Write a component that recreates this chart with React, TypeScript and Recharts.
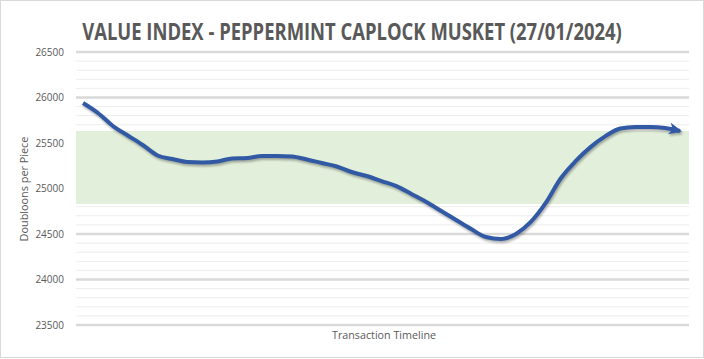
import React, { useLayoutEffect, useRef, useState } from 'react';
import { LineChart, Line, XAxis, YAxis, CartesianGrid, ReferenceArea } from 'recharts';

const title = 'VALUE INDEX - PEPPERMINT CAPLOCK MUSKET (27/01/2024)';
const yAxisLabel = 'Doubloons per Piece';
const xAxisLabel = 'Transaction Timeline';

const steps = [
  0, 1, 2, 3, 4, 5, 6, 7, 8, 9, 10, 11, 12, 13, 14, 15, 16, 17, 18, 19, 20,
  21, 22, 23, 24, 25, 26, 27, 28, 29, 30, 31, 32, 33, 34, 35, 36, 37, 38, 39, 40,
];
const values = [
  25940, 25830, 25687, 25582, 25478, 25363, 25324, 25291, 25286, 25297, 25330,
  25335, 25357, 25357, 25352, 25319, 25280, 25242, 25181, 25137, 25082,
  25027, 24940, 24852, 24753, 24654, 24555, 24467, 24445, 24500, 24632,
  24841, 25110, 25300, 25455, 25575, 25659, 25676, 25676, 25665, 25632,
];
const majorTicks = [23500, 24000, 24500, 25000, 25500, 26000, 26500];
const minorTicks = [
  23600, 23700, 23800, 23900, 24100, 24200, 24300, 24400, 24600, 24700, 24800,
  24900, 25100, 25200, 25300, 25400, 25600, 25700, 25800, 25900, 26100, 26200,
  26300, 26400,
];
const bandLow = 24830;
const bandHigh = 25632;

const data = steps.map((s, i) => ({ step: s, value: values[i] }));

const textColor = '#595959';
const lineColor = '#3159a4';

function FittedText({
  text,
  width,
  transform,
  fontSize,
  fontWeight,
}: {
  text: string;
  width: number;
  transform: string;
  fontSize: number;
  fontWeight?: string;
}) {
  const ref = useRef<SVGTextElement>(null);
  const [sx, setSx] = useState(1);
  useLayoutEffect(() => {
    if (ref.current) {
      const len = ref.current.getComputedTextLength();
      if (len > 0) setSx(width / len);
    }
  }, [text, width]);
  return (
    <g transform={transform}>
      <text
        ref={ref}
        transform={`scale(${sx},1)`}
        x={0}
        y={0}
        textAnchor="middle"
        fontFamily="Open Sans"
        fontWeight={fontWeight}
        fontSize={fontSize}
        fill={textColor}
      >
        {text}
      </text>
    </g>
  );
}

export default function App() {
  return (
    <div style={{ position: 'relative', width: 704, height: 359, background: '#fff' }}>
      <style>{'body{margin:0;}'}</style>
      <svg width={0} height={0} style={{ position: 'absolute' }}>
        <defs>
          <marker
            id="arrowHead"
            markerUnits="userSpaceOnUse"
            markerWidth={14}
            markerHeight={13}
            refX={11}
            refY={6}
            orient="auto"
          >
            <path d="M0,0 L13,6 L0,12 L3.5,6 Z" fill={lineColor} />
          </marker>
        </defs>
      </svg>
      <LineChart
        width={704}
        height={359}
        data={data}
        margin={{ top: 52, right: 15, bottom: 34, left: 0 }}
      >
        <CartesianGrid
          vertical={false}
          horizontalValues={minorTicks}
          stroke="#ededed"
          strokeWidth={1}
        />
        <CartesianGrid
          vertical={false}
          horizontalValues={majorTicks}
          stroke="#d9d9d9"
          strokeWidth={2.5}
        />
        <XAxis
          dataKey="step"
          type="number"
          domain={[-0.47, 40.6]}
          allowDataOverflow
          hide
        />
        <YAxis
          type="number"
          domain={[23500, 26500]}
          ticks={majorTicks}
          interval={0}
          width={76}
          axisLine={false}
          tickLine={false}
          tickSize={6}
          tickMargin={6}
          tick={{ fill: textColor, fontSize: 10, fontFamily: 'Open Sans' }}
        />
        <ReferenceArea
          y1={bandLow}
          y2={bandHigh}
          fill="#e2efda"
          fillOpacity={1}
          stroke="none"
          ifOverflow="extendDomain"
        />
        <Line
          type="monotone"
          dataKey="value"
          stroke={lineColor}
          strokeWidth={4}
          dot={false}
          activeDot={false}
          isAnimationActive={false}
          markerEnd="url(#arrowHead)"
          style={{ filter: 'drop-shadow(1px 2px 1px rgba(0,0,0,0.3))' }}
        />
      </LineChart>
      <svg
        width={704}
        height={359}
        style={{ position: 'absolute', left: 0, top: 0, pointerEvents: 'none' }}
      >
        <rect x={0.5} y={0.5} width={703} height={357} fill="none" stroke="#d9d9d9" />
        <FittedText
          text={title}
          width={540}
          transform="translate(352,39.5)"
          fontSize={23}
          fontWeight="bold"
        />
        <FittedText
          text={xAxisLabel}
          width={104}
          transform="translate(384,339)"
          fontSize={11}
        />
        <FittedText
          text={yAxisLabel}
          width={105}
          transform="translate(28,189) rotate(-90)"
          fontSize={11}
        />
      </svg>
    </div>
  );
}
